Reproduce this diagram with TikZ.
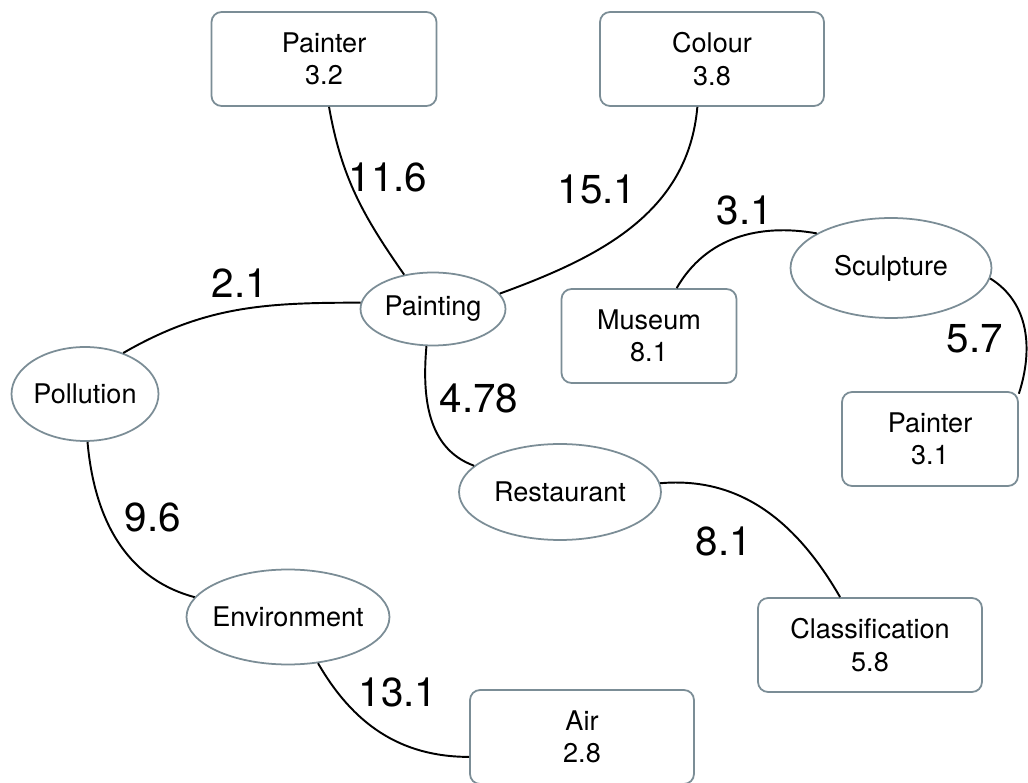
\documentclass[tikz,border=0pt]{standalone}
\usepackage{fontspec}
\setmainfont{TeX Gyre Heros}
\usetikzlibrary{shapes.geometric}
\definecolor{rim}{HTML}{7B8D96}

\begin{document}
\begin{tikzpicture}[x=0.02cm,y=-0.02cm,
  box/.style={draw=rim,line width=1pt,rounded corners=0.2cm,align=center,
    font=\fontsize{15.4}{18.5}\selectfont,minimum height=1.88cm},
  oval/.style={draw=rim,line width=1pt,ellipse,inner xsep=-0.15cm,inner ysep=0pt,
    font=\fontsize{15.4}{18.5}\selectfont},
  weight/.style={font=\fontsize{23}{27}\selectfont},
  link/.style={line width=1.1pt}]
\useasboundingbox[fill=white] (0,0) rectangle (1028,783);
% boxes
\node[box,minimum width=4.5cm] (painterA) at (324,59) {Painter\\3.2};
\node[box,minimum width=4.48cm] (colour) at (712,59) {Colour\\3.8};
\node[box,minimum width=3.5cm] (museum) at (649,336) {Museum\\8.1};
\node[box,minimum width=3.52cm] (painterB) at (930,439) {Painter\\3.1};
\node[box,minimum width=4.48cm] (classif) at (870,645) {Classification\\5.8};
\node[box,minimum width=4.48cm] (air) at (582,737) {Air\\2.8};
% ellipses
\node[oval,minimum width=2.9cm,minimum height=1.46cm] (painting) at (433,309) {Painting};
\node[oval,minimum width=4.02cm,minimum height=2cm] (sculpture) at (891,268) {Sculpture};
\node[oval,minimum width=2.94cm,minimum height=1.88cm] (pollution) at (85,394) {Pollution};
\node[oval,minimum width=4.04cm,minimum height=1.92cm] (restaurant) at (560,492) {Restaurant};
\node[oval,minimum width=4.06cm,minimum height=1.9cm] (environ) at (288,617) {Environment};
% links
\draw[link] (painterA.-84) to[out=-80,in=125] (painting.130);
\draw[link] (colour.-107) to[out=-95,in=20] (painting.13);
\draw[link] (museum.60) to[out=60,in=170] (sculpture.155);
\draw[link] (sculpture.-6) to[out=-32,in=72] (painterB.27);
\draw[link] (painting.175) to[out=180,in=30] (pollution.47);
\draw[link] (painting.-100) to[out=-95,in=160] (restaurant.163);
\draw[link] (pollution.-87) to[out=-85,in=165] (environ.168);
\draw[link] (restaurant.5) to[out=5,in=120] (classif.122);
\draw[link] (environ.-57) to[out=-60,in=180] (air.190);
% weights
\node[weight] (w1) at (388,177) {11.6};
\node[weight] (w2) at (597,189) {15.1};
\node[weight] (w3) at (745,210) {3.1};
\node[weight] (w4) at (975,339) {5.7};
\node[weight] (w5) at (240,283) {2.1};
\node[weight] (w6) at (479,398) {4.78};
\node[weight] (w7) at (153,517) {9.6};
\node[weight] (w8) at (724,541) {8.1};
\node[weight] (w9) at (398,692) {13.1};
\end{tikzpicture}
\end{document}
